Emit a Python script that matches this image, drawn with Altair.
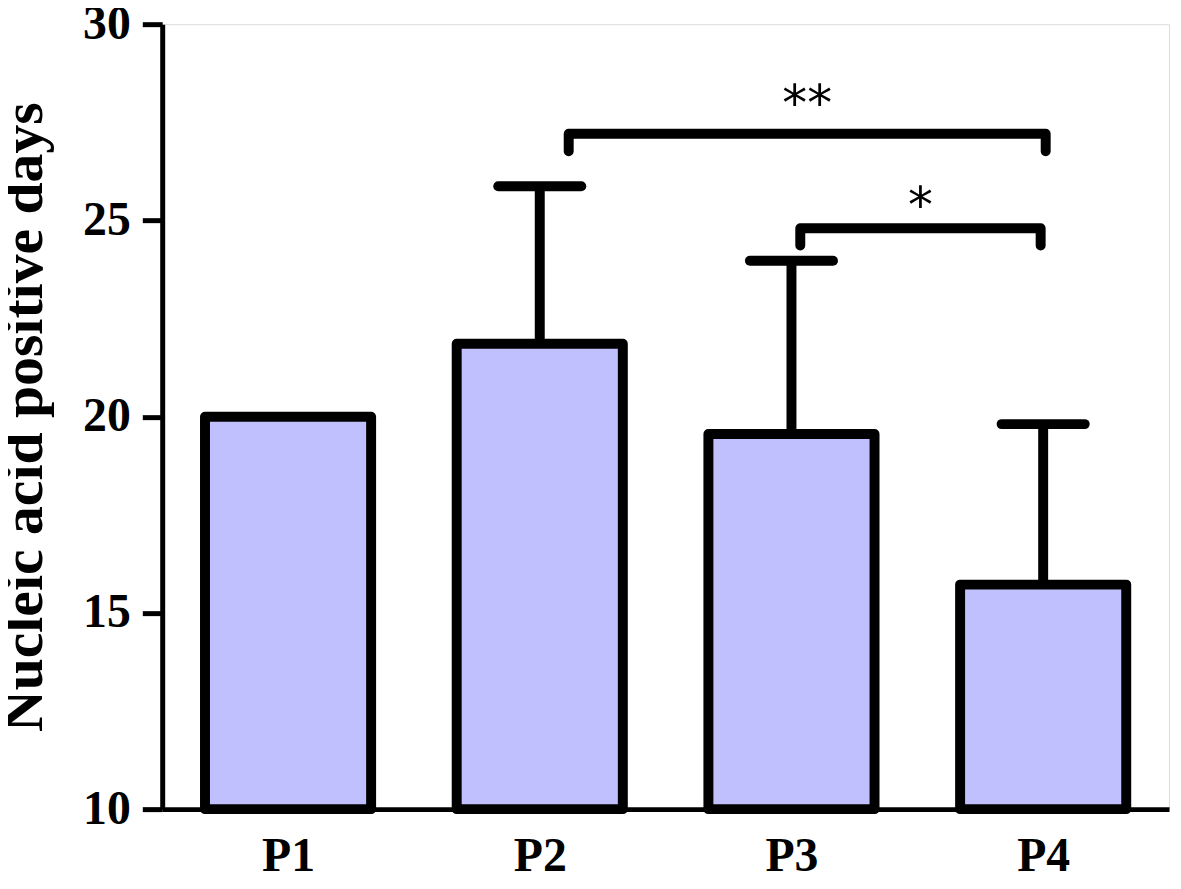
import altair as alt
import pandas as pd

# ---- data ----
categories = ["P1", "P2", "P3", "P4"]
means = [20.0, 21.86, 19.56, 15.72]
upper = [None, 25.87, 23.97, 19.81]

# significance brackets
bracket_from = ["P2", "P3"]
bracket_to = ["P4", "P4"]
bracket_top = [27.21, 24.80]
bracket_leg = [26.76, 24.36]
bracket_left_shift = [0.115, 0.035]
bracket_right_shift = [0.01, -0.01]
bracket_label = ["**", "*"]
label_y = [27.56, 24.97]

y_ticks = [10, 15, 20, 25, 30]

# ---- tables ----
center = {c: i + 0.5 for i, c in enumerate(categories)}
bar_df = pd.DataFrame({
    "group": categories,
    "pos": [center[c] for c in categories],
    "mean": means,
    "upper": upper,
})

line_rows = []
text_rows = []
for k in range(len(bracket_label)):
    xl = center[bracket_from[k]] + bracket_left_shift[k]
    xr = center[bracket_to[k]] + bracket_right_shift[k]
    pts = [(xl, bracket_leg[k]), (xl, bracket_top[k]), (xr, bracket_top[k]), (xr, bracket_leg[k])]
    for o, (px, py) in enumerate(pts):
        line_rows.append({"b": k, "o": o, "bx": px, "by": py})
    text_rows.append({"mid": (xl + xr) / 2, "ly": label_y[k], "label": bracket_label[k]})
line_df = pd.DataFrame(line_rows)
text_df = pd.DataFrame(text_rows)

# ---- scales & axes ----
xscale = alt.Scale(domain=[0, len(categories)], nice=False, zero=False)
yscale = alt.Scale(domain=[10, 30], nice=False, zero=False)

label_expr = "[" + ",".join("'" + c + "'" for c in categories) + "][floor(datum.value)]"
x_axis = alt.Axis(
    title=None, values=[center[c] for c in categories], labelExpr=label_expr,
    ticks=False, grid=False, domainWidth=5, domainColor="black",
    labelFont="Liberation Serif", labelFontWeight="bold", labelFontSize=48,
    labelColor="black", labelPadding=24,
)
y_axis = alt.Axis(
    title="Nucleic acid positive days", values=y_ticks, grid=False,
    domainWidth=5, domainColor="black", tickWidth=5, tickColor="black", tickSize=20,
    labelFont="Liberation Serif", labelFontWeight="bold", labelFontSize=48,
    labelColor="black", labelPadding=12,
    titleFont="Liberation Serif", titleFontWeight="bold", titleFontSize=58,
    titleColor="black", titleBaseline="alphabetic", titleAngle=270,
    titleX=-121, titleY=394.5, titleAlign="center",
)

base = alt.Chart(bar_df)

bars = base.transform_calculate(
    x0="datum.pos - 0.33", x1="datum.pos + 0.33"
).mark_rect(fill="#C0C0FF", stroke="black", strokeWidth=10, strokeJoin="round").encode(
    x=alt.X("x0:Q", scale=xscale, axis=x_axis),
    x2="x1:Q",
    y=alt.Y("mean:Q", scale=yscale, axis=y_axis),
    y2=alt.datum(10),
)

stems = base.transform_filter("isValid(datum.upper)").mark_rule(
    color="black", strokeWidth=10
).encode(
    x=alt.X("pos:Q", scale=xscale, axis=x_axis),
    y=alt.Y("mean:Q", scale=yscale, axis=y_axis),
    y2="upper:Q",
)

caps = base.transform_filter("isValid(datum.upper)").transform_calculate(
    c0="datum.pos - 0.165", c1="datum.pos + 0.165"
).mark_rule(color="black", strokeWidth=10, strokeCap="round").encode(
    x=alt.X("c0:Q", scale=xscale, axis=x_axis),
    x2="c1:Q",
    y=alt.Y("upper:Q", scale=yscale, axis=y_axis),
)

brackets = alt.Chart(line_df).mark_line(
    color="black", strokeWidth=10, strokeJoin="round", strokeCap="round"
).encode(
    x=alt.X("bx:Q", scale=xscale, axis=x_axis),
    y=alt.Y("by:Q", scale=yscale, axis=y_axis),
    detail="b:N",
    order="o:Q",
)

stars = alt.Chart(text_df).mark_text(
    font="DejaVu Sans", fontSize=50, baseline="alphabetic", align="center", color="black"
).encode(
    x=alt.X("mid:Q", scale=xscale, axis=x_axis),
    y=alt.Y("ly:Q", scale=yscale, axis=y_axis),
    text="label:N",
)

chart = alt.layer(stems, caps, bars, brackets, stars).properties(
    width=1012, height=789,
    autosize=alt.AutoSizeParams(type="none"),
    padding={"left": 155, "top": 14, "right": 4, "bottom": 75},
).configure_view(stroke=None).configure(background="white")

chart.save("out.html", embed_options={"renderer": "svg", "actions": False})
